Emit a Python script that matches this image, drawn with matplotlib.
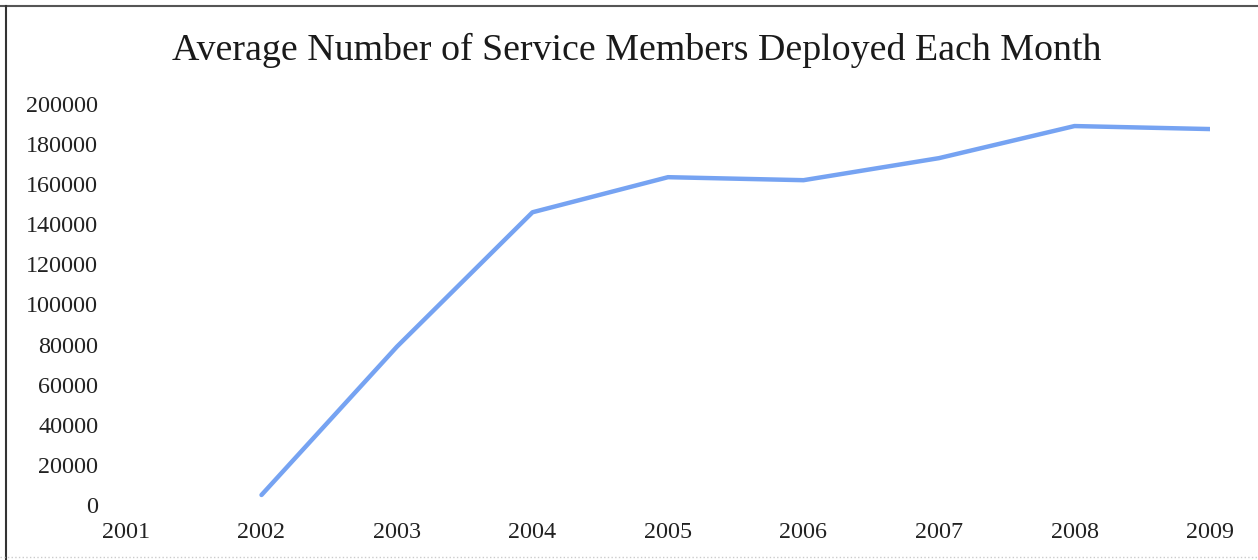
import matplotlib.pyplot as plt
from matplotlib.lines import Line2D

plt.rcParams['font.family'] = 'serif'
plt.rcParams['font.serif'] = ['Liberation Serif', 'DejaVu Serif']

# Average monthly deployments by year
years = [2001, 2002, 2003, 2004, 2005, 2006, 2007, 2008, 2009]
deployed_years = [2002, 2003, 2004, 2005, 2006, 2007, 2008, 2009]
deployed = [5000, 79000, 146000, 163500, 162000, 173000, 189000, 187500]
y_ticks = list(range(0, 200001, 20000))

line_color = '#76a3f2'

fig = plt.figure(figsize=(12.58, 5.6), dpi=100)
ax = fig.add_axes([126 / 1258, 1 - 505 / 560, (1210 - 126) / 1258, (505 - 104) / 560])

ax.plot(deployed_years, deployed, color=line_color, linewidth=3.2, solid_capstyle='round')

ax.set_xlim(2001, 2009)
ax.set_ylim(0, 200000)
ax.set_xticks(years)
ax.set_xticklabels([str(y) for y in years])
ax.set_yticks(y_ticks)
ax.set_yticklabels([str(v) for v in y_ticks])
ax.tick_params(axis='both', length=0, labelsize=17.4, colors='#222222')
ax.tick_params(axis='y', pad=20)
ax.tick_params(axis='x', pad=12)
for s in ax.spines.values():
    s.set_visible(False)

fig.text(0.506, 1 - 50 / 560, 'Average Number of Service Members Deployed Each Month',
         ha='center', va='center', fontsize=27.3, color='#1a1a1a')

# outer frame edges
fig.add_artist(Line2D([0, 1], [1 - 6 / 560, 1 - 6 / 560], color='#555555', linewidth=1.5))
fig.add_artist(Line2D([6 / 1258, 6 / 1258], [0, 1 - 6 / 560], color='#333333', linewidth=1.5))
fig.add_artist(Line2D([0, 1], [3 / 560, 3 / 560], color='#cccccc', linewidth=1, linestyle=':'))

fig.savefig('out.png', dpi=100, facecolor='white')
